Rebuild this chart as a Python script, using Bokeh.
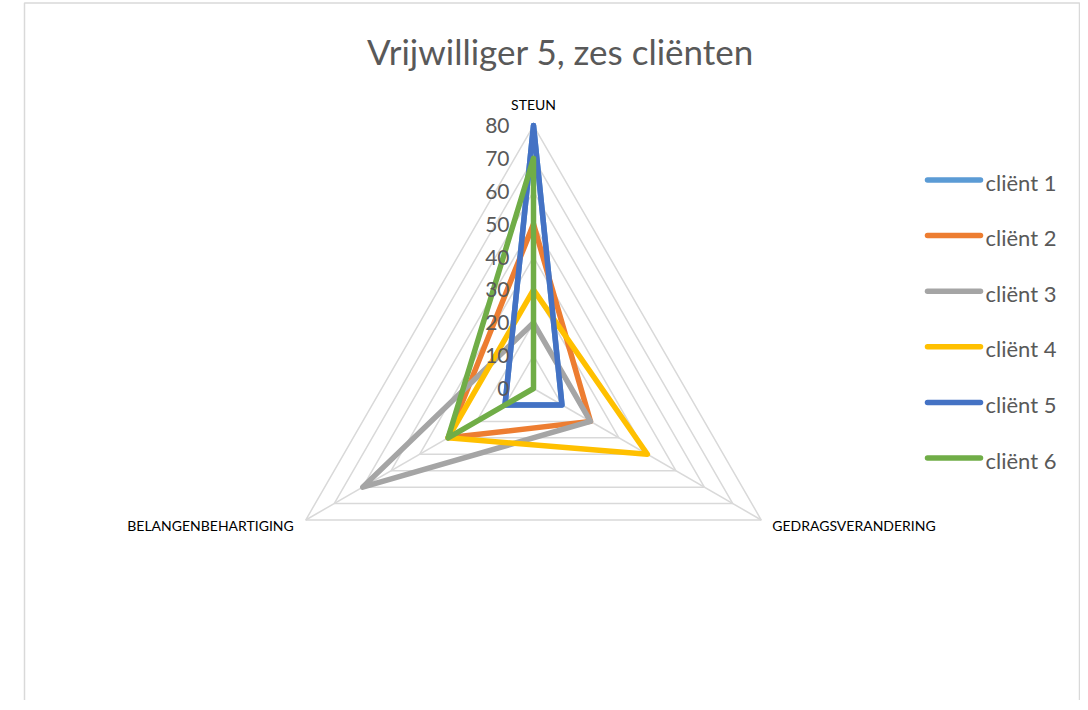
import numpy as np
from bokeh.plotting import figure
from bokeh.models import Range1d
from bokeh.core.properties import value
from bokeh.embed import file_html
from bokeh.resources import INLINE

# ---- data ----
title = "Vrijwilliger 5, zes cliënten"
categories = ["STEUN", "GEDRAGSVERANDERING", "BELANGENBEHARTIGING"]
series_names = ["cliënt 1", "cliënt 2", "cliënt 3", "cliënt 4", "cliënt 5", "cliënt 6"]
client1 = [80, 10, 10]
client2 = [50, 20, 30]
client3 = [20, 20, 60]
client4 = [30, 40, 30]
client5 = [80, 10, 10]
client6 = [70, 0, 30]
series_values = [client1, client2, client3, client4, client5, client6]
series_colors = ["#5B9BD5", "#ED7D31", "#A5A5A5", "#FFC000", "#4472C4", "#70AD47"]
tick_values = [0, 10, 20, 30, 40, 50, 60, 70, 80]
tick_labels = ["0", "10", "20", "30", "40", "50", "60", "70", "80"]
rmax = 80

FONT = value("Lato")
W, H = 1080, 700
k = 263.0 / 80.0          # pixels per value unit
cx, cy = 533.0, 388.0     # screenshot pixel position of the centre
X0, Y0 = 0, 0             # screenshot pixel of the figure's top-left corner


def page_x(px):
    return (px - cx) / k


def page_y(py):
    return (cy - py) / k


p = figure(width=W, height=H, output_backend="svg", toolbar_location=None,
           x_range=Range1d(page_x(X0), page_x(X0 + W)),
           y_range=Range1d(page_y(Y0 + H), page_y(Y0)),
           min_border=0)
p.axis.visible = False
p.grid.visible = False
p.outline_line_color = None
p.background_fill_color = "white"
p.border_fill_color = "white"

angles = np.deg2rad([90, -30, 210])


def to_xy(vals):
    v = np.asarray(vals, dtype=float)
    return v * np.cos(angles), v * np.sin(angles)


# frame border (chart area)
p.line([page_x(24), page_x(24), page_x(1079), page_x(1079)],
       [page_y(720), page_y(2.5), page_y(2.5), page_y(720)],
       line_color="#d9d9d9", line_width=1.5)

# grid triangles
for t in tick_values[1:]:
    gx, gy = to_xy([t, t, t])
    p.line(list(gx) + [gx[0]], list(gy) + [gy[0]], line_color="#d9d9d9", line_width=1.5)

# spokes
sx, sy = to_xy([rmax] * 3)
p.segment(x0=[0, 0, 0], y0=[0, 0, 0], x1=list(sx), y1=list(sy),
          line_color="#d9d9d9", line_width=1.5)

# series
for vals, col in zip(series_values, series_colors):
    x, y = to_xy(vals)
    p.line(list(x) + [x[0]], list(y) + [y[0]], line_color=col, line_width=5.5,
           line_join="round", line_cap="round")

# radial tick labels
p.text(x=[0] * len(tick_values), y=tick_values, text=tick_labels,
       x_offset=-24, text_align="right", text_baseline="middle",
       text_font=FONT, text_font_size="21px", text_color="#595959")

# category labels
ox, oy = to_xy([rmax] * 3)
p.text(x=[ox[0]], y=[oy[0]], text=[categories[0]], y_offset=-21,
       text_align="center", text_baseline="middle", text_font=FONT,
       text_font_size="14px", text_color="#000000")
p.text(x=[ox[1]], y=[oy[1]], text=[categories[1]], x_offset=11, y_offset=5,
       text_align="left", text_baseline="middle", text_font=FONT,
       text_font_size="14px", text_color="#000000")
p.text(x=[ox[2]], y=[oy[2]], text=[categories[2]], x_offset=-12, y_offset=5,
       text_align="right", text_baseline="middle", text_font=FONT,
       text_font_size="14px", text_color="#000000")

# title
p.text(x=[page_x(560)], y=[page_y(50)], text=[title], text_align="center",
       text_baseline="middle", text_font=FONT, text_font_size="35px",
       text_color="#595959")

# legend
ly = [179.5 + 55.6 * i for i in range(len(series_names))]
p.segment(x0=[page_x(927)] * 6, x1=[page_x(980)] * 6,
          y0=[page_y(v) for v in ly], y1=[page_y(v) for v in ly],
          line_color=series_colors, line_width=5.5, line_cap="round")
p.text(x=[page_x(985)] * 6, y=[page_y(v + 2) for v in ly], text=series_names,
       text_align="left", text_baseline="middle", text_font=FONT,
       text_font_size="22px", text_color="#595959")

open("out.html", "w").write(file_html(p, INLINE))
